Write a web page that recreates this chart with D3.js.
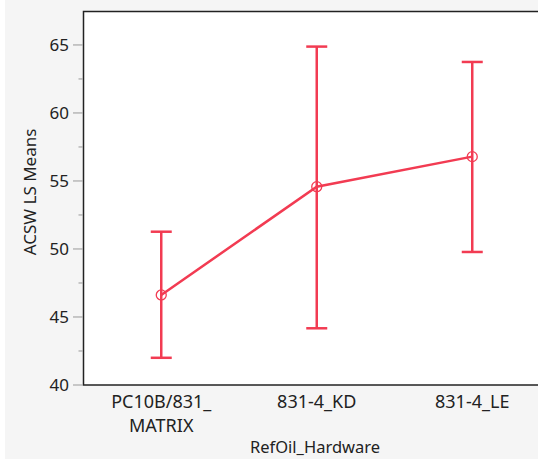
<!DOCTYPE html>
<html><head><meta charset="utf-8">
<script src="https://cdn.jsdelivr.net/npm/d3@7"></script>
<style>body{margin:0;background:#fff}svg{display:block}text{font-family:"Noto Sans","Open Sans",sans-serif;fill:#222}</style>
</head><body>
<script>
const categories = ["PC10B/831_\nMATRIX", "831-4_KD", "831-4_LE"];
const means = [46.62, 54.58, 56.79];
const upper = [51.27, 64.88, 63.75];
const lower = [42.0, 44.17, 49.78];
const yTicks = [40, 45, 50, 55, 60, 65];
const yMinorTicks = [42.5, 47.5, 52.5, 57.5, 62.5, 67.5];

const W = 538, H = 459;
const m = {left: 83.5, top: 11.5, bottom: 385};
const color = "#f23b52";
const svg = d3.select("body").append("svg").attr("width", W).attr("height", H);
svg.append("rect").attr("x", 5).attr("y", 0).attr("width", W - 5).attr("height", 459).attr("fill", "#f5f5f5");

const x = d3.scalePoint().domain(categories).range([m.left, 550]).padding(0.5);
const y = d3.scaleLinear().domain([40, 67.46]).range([m.bottom, m.top]);

svg.append("rect").attr("x", m.left).attr("y", m.top).attr("width", 560 - m.left).attr("height", m.bottom - m.top)
  .attr("fill", "#fff").attr("stroke", "#222").attr("stroke-width", 1.5);

// y axis ticks
const ya = svg.append("g");
ya.selectAll("line.maj").data(yTicks).join("line").attr("class", "maj")
  .attr("x1", 73).attr("x2", m.left - 0.75).attr("y1", d => y(d)).attr("y2", d => y(d))
  .attr("stroke", "#999").attr("stroke-width", 1);
ya.selectAll("line.min").data(yMinorTicks.filter(d => y(d) > m.top)).join("line").attr("class", "min")
  .attr("x1", 78.5).attr("x2", m.left - 0.75).attr("y1", d => y(d)).attr("y2", d => y(d))
  .attr("stroke", "#999").attr("stroke-width", 1);
ya.selectAll("text").data(yTicks).join("text")
  .attr("x", 69).attr("y", d => y(d)).attr("dy", "0.36em").attr("text-anchor", "end")
  .attr("font-size", 17).text(d => d);

// x labels
const xl = svg.append("g");
categories.forEach(c => {
  const t = xl.append("text").attr("x", x(c)).attr("y", 408).attr("text-anchor", "middle").attr("font-size", 18);
  c.split("\n").forEach((s, i) => t.append("tspan").attr("x", x(c)).attr("dy", i ? 24 : 0).text(s));
});

// titles
svg.append("text").attr("x", 315).attr("y", 453).attr("text-anchor", "middle").attr("font-size", 16.5).text("RefOil_Hardware");
svg.append("text").attr("transform", "translate(36,192) rotate(-90)").attr("text-anchor", "middle").attr("font-size", 17).text("ACSW LS Means");

// error bars
const g = svg.append("g");
categories.forEach((c, i) => {
  const cx = x(c);
  g.append("line").attr("x1", cx).attr("x2", cx).attr("y1", y(lower[i])).attr("y2", y(upper[i]))
    .attr("stroke", color).attr("stroke-width", 2.5);
  [lower[i], upper[i]].forEach(v => g.append("line").attr("x1", cx - 10.5).attr("x2", cx + 10.5)
    .attr("y1", y(v)).attr("y2", y(v)).attr("stroke", color).attr("stroke-width", 2.5));
});
g.append("path").datum(means)
  .attr("d", d3.line().x((d, i) => x(categories[i])).y(d => y(d)))
  .attr("fill", "none").attr("stroke", color).attr("stroke-width", 2.5);
g.selectAll("circle").data(means).join("circle")
  .attr("cx", (d, i) => x(categories[i])).attr("cy", d => y(d)).attr("r", 5)
  .attr("fill", "none").attr("stroke", color).attr("stroke-width", 1.3);
</script>
</body></html>
